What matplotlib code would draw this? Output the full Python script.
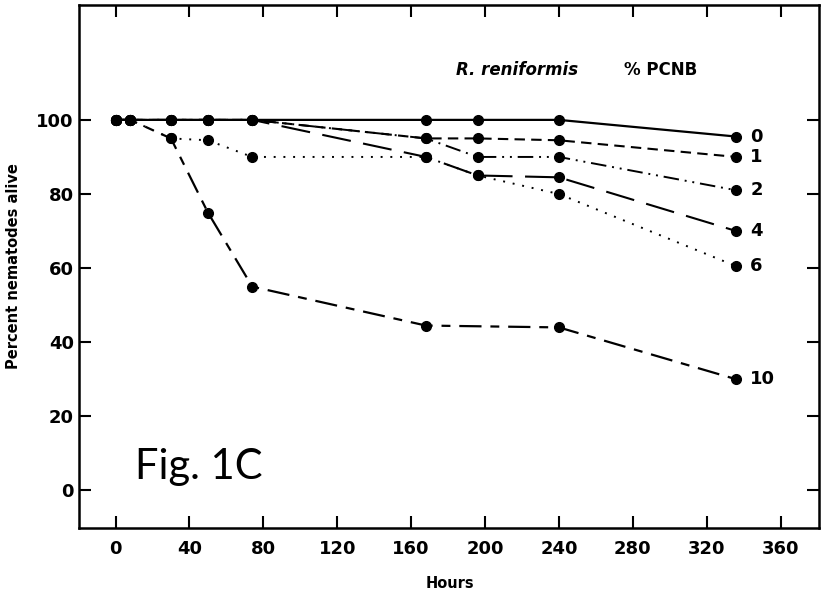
import matplotlib
matplotlib.use("Agg")
import matplotlib.pyplot as plt

# hours after exposure
hours = [0, 8, 30, 50, 74, 168, 196, 240, 336]
hours_10 = [0, 8, 30, 50, 74, 168, 240, 336]

# percent nematodes alive for each % PCNB
pcnb_0 = [100, 100, 100, 100, 100, 100, 100, 100, 95.5]
pcnb_1 = [100, 100, 100, 100, 100, 95, 95, 94.5, 90]
pcnb_2 = [100, 100, 100, 100, 100, 95, 90, 90, 81]
pcnb_4 = [100, 100, 100, 100, 100, 90, 85, 84.5, 70]
pcnb_6 = [100, 100, 95, 94.5, 90, 90, 85, 80, 60.5]
pcnb_10 = [100, 100, 95, 75, 55, 44.5, 44, 30]

labels = ["0", "1", "2", "4", "6", "10"]
x_ticks = [0, 40, 80, 120, 160, 200, 240, 280, 320, 360]
y_ticks = [0, 20, 40, 60, 80, 100]

fig = plt.figure(figsize=(8.22, 5.97), dpi=100)
ax = fig.add_axes([0.0967, 0.1164, 0.9002, 0.8752])

series = [
    (hours, pcnb_0, "-", 1.6),
    (hours, pcnb_1, (0, (5, 3)), 1.5),
    (hours, pcnb_2, (0, (8, 3, 1, 3, 1, 3)), 1.4),
    (hours, pcnb_4, (0, (14, 6)), 1.5),
    (hours, pcnb_6, (0, (1, 4)), 1.4),
    (hours_10, pcnb_10, (0, (10, 4, 4, 4)), 1.6),
]
for (t, y, ls, lw), lab in zip(series, labels):
    ax.plot(t, y, color="black", linestyle=ls, linewidth=lw,
            marker="o", markersize=7, markerfacecolor="black",
            markeredgecolor="black")
    ax.annotate(lab, xy=(t[-1], y[-1]), xytext=(10, 0),
                textcoords="offset points", ha="left", va="center",
                fontsize=13, fontweight="bold")

ax.set_xlim(-19.5, 381)
ax.set_ylim(-10, 131)
ax.set_xticks(x_ticks)
ax.set_yticks(y_ticks)
ax.tick_params(direction="in", length=8.5, width=1.5, top=True, right=True,
               labelsize=13)
ax.tick_params(axis="x", pad=9)
ax.tick_params(axis="y", pad=4)
for lbl in ax.get_xticklabels() + ax.get_yticklabels():
    lbl.set_fontweight("bold")
for sp in ax.spines.values():
    sp.set_linewidth(1.8)

ax.set_xlabel("Hours", fontsize=10.5, fontweight="bold", labelpad=13)
ax.set_ylabel("Percent nematodes alive", fontsize=10.5, fontweight="bold",
              labelpad=11)

ax.text(0.509, 0.875, "R. reniformis", transform=ax.transAxes, fontsize=12,
        fontweight="bold", fontstyle="italic", ha="left", va="center")
ax.text(0.736, 0.875, "% PCNB", transform=ax.transAxes, fontsize=12,
        fontweight="bold", ha="left", va="center")

ax.text(0.075, 0.115, "Fig. 1C", transform=ax.transAxes, fontsize=30,
        family="Lato", fontweight="normal", ha="left", va="center")

plt.savefig("out.png", dpi=100)
